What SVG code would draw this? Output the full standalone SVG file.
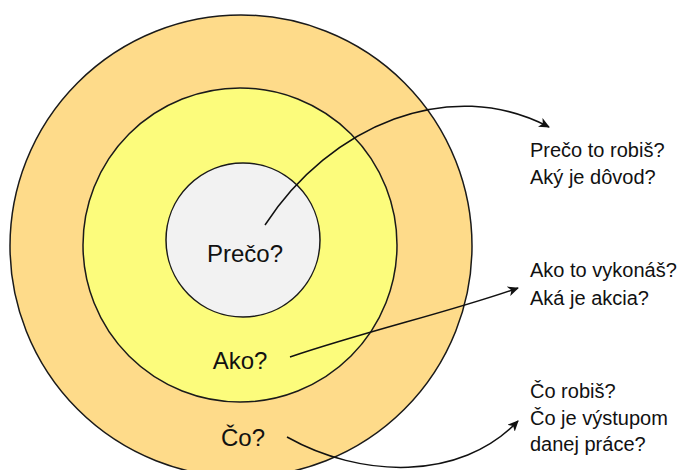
<svg xmlns="http://www.w3.org/2000/svg" width="680" height="470" viewBox="0 0 680 470">
<style>
.ring{stroke:#1a1a1a;stroke-width:1.5}
.lbl{font-family:"Liberation Sans","DejaVu Sans",sans-serif;fill:#111}
.big{font-size:24px}
.side{font-size:20px}
.conn{fill:none;stroke:#111;stroke-width:1.5}
</style>
<defs>
<marker id="ah" markerWidth="12" markerHeight="10" refX="10" refY="5" orient="auto" markerUnits="userSpaceOnUse">
<path d="M0,0 L11,5 L0,10 L3,5 Z" fill="#111"/>
</marker>
</defs>
<rect width="680" height="470" fill="#fff"/>
<g id="outer"><ellipse class="ring" cx="241" cy="246" rx="231" ry="231" fill="#FEDB8A"/></g>
<g id="middle"><ellipse class="ring" cx="240" cy="245" rx="157" ry="157" fill="#FCFC7C"/></g>
<g id="inner"><ellipse class="ring" cx="243" cy="240" rx="77" ry="77" fill="#F2F2F2"/></g>
<g id="connectors">
<path class="conn" d="M265,225 C330,125 450,75 549,127" marker-end="url(#ah)"/>
<path class="conn" d="M290,357 C370,330 450,312 518,288" marker-end="url(#ah)"/>
<path class="conn" d="M287,437 C360,478 460,482 518,421" marker-end="url(#ah)"/>
</g>
<g id="label-preco"><text class="lbl big" x="245" y="262" text-anchor="middle">Prečo?</text></g>
<g id="label-ako"><text class="lbl big" x="240" y="369" text-anchor="middle">Ako?</text></g>
<g id="label-co"><text class="lbl big" x="243" y="446" text-anchor="middle">Čo?</text></g>
<g id="text-why">
<text class="lbl side" x="530" y="157">Prečo to robiš?</text>
<text class="lbl side" x="530" y="184">Aký je dôvod?</text>
</g>
<g id="text-how">
<text class="lbl side" x="530" y="277">Ako to vykonáš?</text>
<text class="lbl side" x="530" y="305">Aká je akcia?</text>
</g>
<g id="text-what">
<text class="lbl side" x="530" y="398">Čo robiš?</text>
<text class="lbl side" x="530" y="425">Čo je výstupom</text>
<text class="lbl side" x="530" y="451">danej práce?</text>
</g>
</svg>
